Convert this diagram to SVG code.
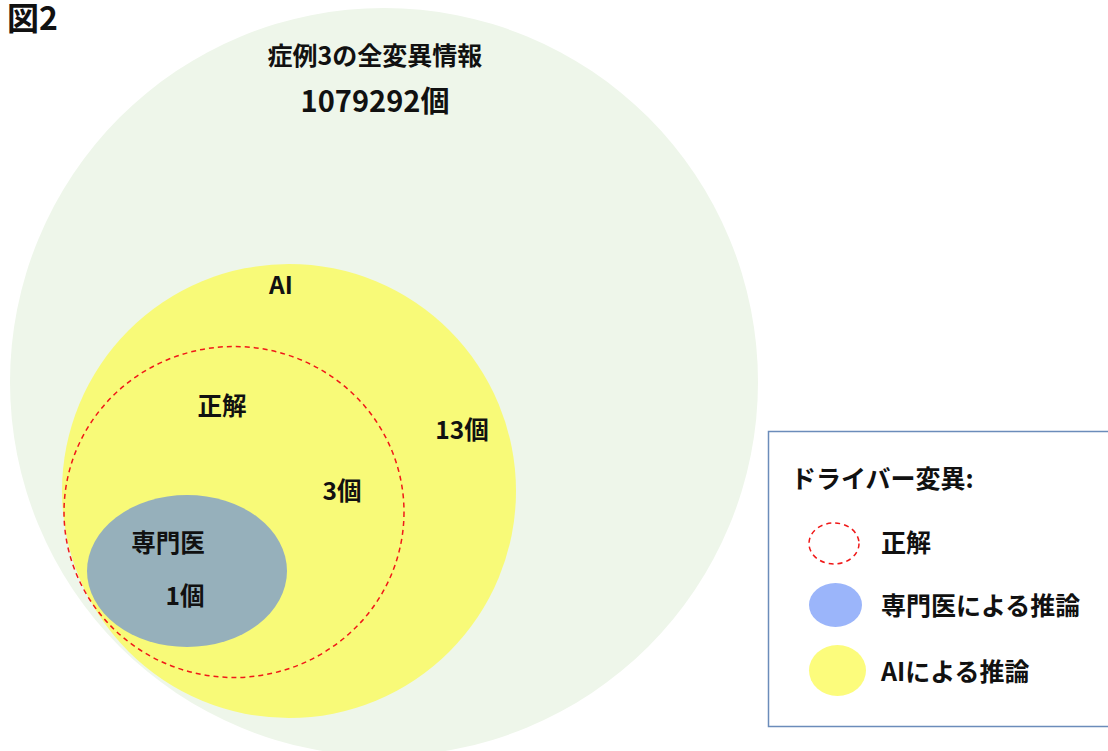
<svg xmlns="http://www.w3.org/2000/svg" width="1108" height="751" viewBox="0 0 1108 751">
<style>
text{font-family:"Noto Sans CJK JP","Noto Sans",sans-serif;font-weight:bold;fill:#111;font-size:24.5px}
.m{text-anchor:middle}
.dash{fill:none;stroke:#f01818;stroke-width:1.5;stroke-dasharray:5 4}
</style>
<rect width="1108" height="751" fill="#fff"/>
<text x="7" y="30" style="font-size:32px">図2</text>
<g id="all">
<circle cx="384" cy="382" r="374" fill="#eef6ea"/>
<text class="m" x="375" y="65" style="font-size:25px">症例3の全変異情報</text>
<text class="m" x="375" y="112" style="font-size:29px">1079292個</text>
</g>
<g id="ai">
<ellipse cx="289" cy="491" rx="227" ry="227" fill="#f8fa78"/>
<text class="m" x="281" y="294">AI</text>
<text class="m" x="462" y="439">13個</text>
</g>
<g id="expert">
<ellipse cx="187" cy="571" rx="100" ry="76" fill="#96b0bb"/>
<text class="m" x="168" y="552">専門医</text>
<text class="m" x="185" y="605">1個</text>
</g>
<g id="truth">
<ellipse class="dash" cx="234" cy="512" rx="170" ry="165.5"/>
<text class="m" x="222" y="415">正解</text>
<text class="m" x="342" y="500">3個</text>
</g>
<g id="legend">
<rect x="768.5" y="431.5" width="345" height="295" fill="#fff" stroke="#6b8cba" stroke-width="1.5"/>
<text x="791" y="488" style="font-size:25px">ドライバー変異:</text>
<ellipse class="dash" cx="834" cy="543.5" rx="25" ry="20.5"/>
<text x="881" y="552" style="font-size:25px">正解</text>
<ellipse cx="835.5" cy="605" rx="26.5" ry="22" fill="#9bb5fa"/>
<text x="881" y="615" style="font-size:25px">専門医による推論</text>
<ellipse cx="837.5" cy="670.5" rx="28.5" ry="25.5" fill="#fcfc7c"/>
<text x="881" y="681" style="font-size:25px">AIによる推論</text>
</g>
</svg>
